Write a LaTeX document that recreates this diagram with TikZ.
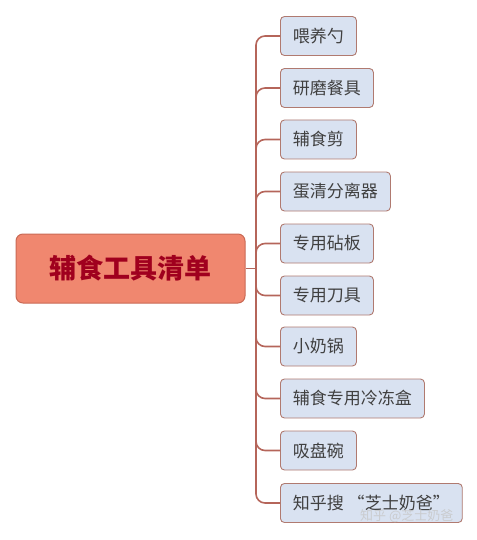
\documentclass[tikz,border=0pt]{standalone}
\usepackage{fontspec}
\newfontfamily\cjk{Noto Sans CJK SC}
\definecolor{linec}{HTML}{B5655A}
\definecolor{leaffill}{HTML}{D9E2F1}
\definecolor{leafdraw}{HTML}{B07A70}
\definecolor{rootfill}{HTML}{F0876F}
\definecolor{rootdraw}{HTML}{C96A55}
\definecolor{roottext}{HTML}{A0001E}
\definecolor{leaftext}{HTML}{404040}
\begin{document}
\begin{tikzpicture}[x=1pt,y=-1pt,
  leaf/.style={draw=leafdraw,fill=leaffill,rounded corners=4pt,line width=0.9pt,
    minimum height=39pt,inner xsep=12.5pt,anchor=west,text=leaftext,
    font=\cjk\fontsize{17}{19}\selectfont},
  root/.style={draw=rootdraw,fill=rootfill,rounded corners=7pt,line width=1pt,
    minimum width=229pt,minimum height=69pt,text=roottext,
    font=\cjk\bfseries\fontsize{27}{31}\selectfont},
  conn/.style={draw=linec,line width=1.6pt,rounded corners=9pt}]
\useasboundingbox (0,0) rectangle (476,540);
\node[root] (r) at (130.5,268.5) {辅食工具清单};
\coordinate (hub) at (256,268.5);
\node[leaf] (c1) at (280,36) {喂养勺};
\node[leaf] (c2) at (280,88) {研磨餐具};
\node[leaf] (c3) at (280,139.5) {辅食剪};
\node[leaf] (c4) at (280,191.5) {蛋清分离器};
\node[leaf] (c5) at (280,243.5) {专用砧板};
\node[leaf] (c6) at (280,295.5) {专用刀具};
\node[leaf] (c7) at (280,346.5) {小奶锅};
\node[leaf] (c8) at (280,398.5) {辅食专用冷冻盒};
\node[leaf] (c9) at (280,450.5) {吸盘碗};
\node[leaf] (c10) at (280,503) {知乎搜 “芝士奶爸”};
\draw[conn] (r.east) -- (hub);
\foreach \i in {1,...,10} {\draw[conn] (hub) |- (c\i.west);}
\node[text=white!55!gray,opacity=0.8,font=\cjk\fontsize{13}{15}\selectfont,anchor=west,inner sep=0pt] (wm) at (360,516) {知乎 @芝士奶爸};
\end{tikzpicture}
\end{document}
